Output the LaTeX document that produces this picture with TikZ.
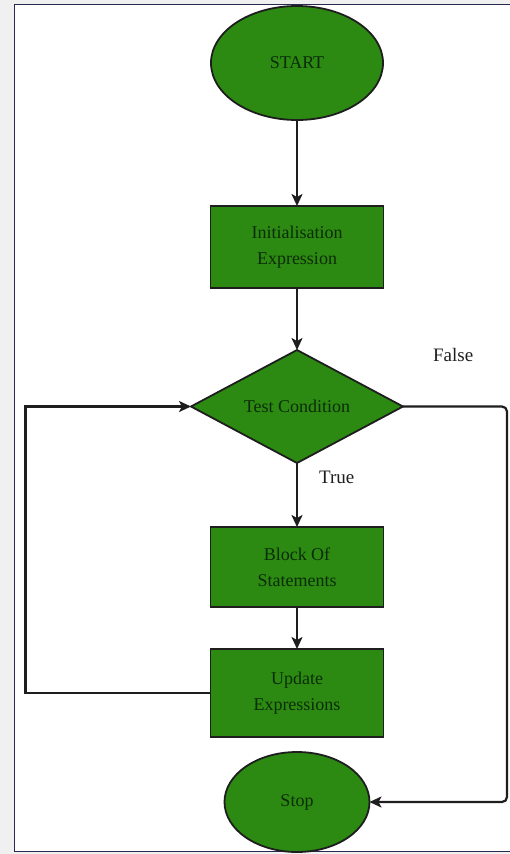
\documentclass[tikz,border=0pt]{standalone}
\usepackage{fontspec}
\setmainfont{Liberation Serif}
\usetikzlibrary{positioning,shapes.geometric,arrows.meta}
\definecolor{boxgreen}{RGB}{44,138,18}
\definecolor{textgreen}{RGB}{12,44,8}
\definecolor{framecol}{RGB}{40,42,80}
\definecolor{linecol}{RGB}{30,30,30}

\begin{document}
\begin{tikzpicture}[x=1pt, y=-1pt, ->, >={Stealth[length=12pt,width=11pt,inset=3pt]}, line width=2.2pt, draw=linecol,
  oval/.style={ellipse, draw, fill=boxgreen, text=textgreen, inner sep=0pt, outer sep=0pt, line width=1.8pt},
  block/.style={rectangle, draw, fill=boxgreen, text=textgreen, minimum width=173pt, minimum height=82pt, align=center, inner sep=0pt, outer sep=0pt, line width=1.8pt},
  decision/.style={diamond, draw, fill=boxgreen, text=textgreen, aspect=1.88, minimum width=212pt, minimum height=113pt, inner sep=0pt, outer sep=0pt, line width=1.8pt},
  lbl/.style={inner sep=0pt, text=linecol, font=\fontsize{19}{22}\selectfont},
  every node/.style={font=\fontsize{18}{26}\selectfont}]

  \useasboundingbox (0,0) rectangle (510,854);
  \fill[-, black!6] (0,0) rectangle (510,854);
  \fill[-, white] (14,4) rectangle (520,851);
  \draw[-, framecol, line width=1pt] (520,4) -- (14,4) -- (14,851) -- (520,851);

  \node[oval, minimum width=172pt, minimum height=114pt] (start) at (297,63) {START};
  \node[block] (init) [below = 86pt of start] {Initialisation\\Expression};
  \node[decision] (test) [below = 62pt of init] {Test Condition};
  \node[block, minimum height=80pt] (body) [below = 64pt of test] {Block Of\\Statements};
  \node[block, minimum height=88pt] (update) [below = 42pt of body] {Update\\Expressions};
  \node[oval, minimum width=145pt, minimum height=100pt] (stop) [below = 15pt of update] {Stop};

  \node[lbl] (false) [above right = 44pt and 29pt of test.east, anchor=south west] {False};
  \node[lbl] (true) [below right = 7pt and 21pt of test.south, anchor=north west] {True};

  \coordinate[left = 185pt of update.west] (back);
  \coordinate[right = 104pt of test.east] (out);

  \path
    (start) edge (init)
    (init) edge (test)
    (test) edge (body)
    (body) edge (update)
  ;
  \draw (update.west) -- (back) |- (test.west);
  \draw[rounded corners=5pt] (test.east) -- (out) |- (stop.east);
\end{tikzpicture}
\end{document}
